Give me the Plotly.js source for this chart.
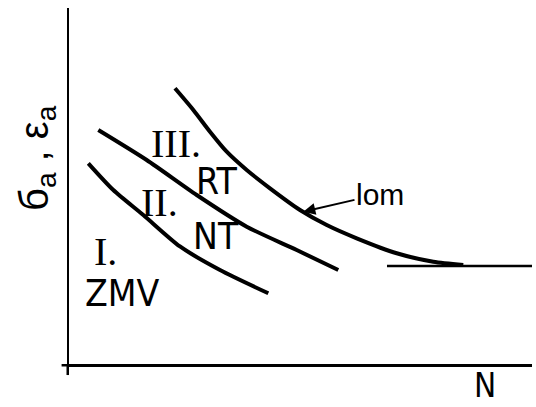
<!DOCTYPE html>
<html>
<head>
<meta charset="utf-8">
<script src="https://cdn.plot.ly/plotly-3.0.1.min.js"></script>
<style>
  html, body { margin: 0; padding: 0; background: #fff; }
  #chart { width: 536px; height: 407px; }
</style>
</head>
<body>
<div id="chart"></div>
<script>
// Fatigue regions: amplitude (stress / strain) versus number of cycles N, arbitrary units 0-100
const curveI_N   = [4.17, 9.57, 16.05, 23.97, 32.61, 43.05];
const curveI_A   = [56.38, 48.88, 41.85, 33.01, 26.40, 19.86];

const curveII_N  = [6.33, 16.78, 27.58, 38.38, 49.18, 58.16];
const curveII_A  = [65.73, 57.30, 47.47, 38.57, 32.02, 26.40];

const curveLom_N = [22.89, 26.85, 30.45, 34.06, 38.38, 43.41, 49.89, 55.66, 62.14, 70.78, 78.68, 85.16];
const curveLom_A = [77.44, 71.35, 65.25, 59.63, 54.49, 49.35, 43.26, 39.04, 35.31, 31.10, 28.74, 27.81];

// endurance limit
const limit_N = [68.68, 100];
const limit_A = [27.53, 27.53];

// region labels
const regionText = ["III.", "RT", "II.", "NT", "I.", "ZMV"];
const regionN    = [23.11, 31.75, 19.65, 31.75, 7.99, 11.56];
const regionA    = [61.80, 51.26, 45.37, 35.81, 31.60, 19.80];
const regionSerif = [true, false, true, false, true, false];

// fracture curve pointer
const lomText = "lom";
const lomTip = [50.61, 42.78];
const lomLabel = [67.17, 47.75];

const ink = "#000";
const curveStyle = { color: ink, width: 4, shape: "spline", smoothing: 0.7 };

const traces = [
  { x: curveI_N,   y: curveI_A,   mode: "lines", line: curveStyle, hoverinfo: "skip" },
  { x: curveII_N,  y: curveII_A,  mode: "lines", line: curveStyle, hoverinfo: "skip" },
  { x: curveLom_N, y: curveLom_A, mode: "lines", line: curveStyle, hoverinfo: "skip" },
  { x: limit_N,    y: limit_A,    mode: "lines", line: { color: ink, width: 2.5 }, hoverinfo: "skip" }
];

const serifFont = { family: "Liberation Serif, Times New Roman, serif", size: 40, color: ink };
const sansFamily = "Liberation Sans Narrow, DejaVu Sans Condensed, Liberation Sans, Arial, sans-serif";
const sansFont  = { family: sansFamily, size: 37, color: ink };

const annotations = regionText.map((t, i) => ({
  x: regionN[i], y: regionA[i], xref: "x", yref: "y",
  text: t, showarrow: false,
  font: regionSerif[i] ? serifFont : sansFont,
  xanchor: "center", yanchor: "middle"
}));

annotations.push({
  x: lomTip[0], y: lomTip[1], xref: "x", yref: "y",
  ax: lomLabel[0], ay: lomLabel[1], axref: "x", ayref: "y",
  text: lomText, showarrow: true,
  arrowhead: 2, arrowsize: 1.2, arrowwidth: 2, arrowcolor: ink,
  font: { family: "Liberation Sans, Arial, sans-serif", size: 30, color: ink }
});

annotations.push({
  x: 89.85, y: -0.1208, xref: "x", yref: "paper",
  text: "N", showarrow: false,
  font: { family: sansFamily, size: 33, color: ink },
  xanchor: "center", yanchor: "bottom"
});

annotations.push({
  x: -0.069, y: 0.5787, xref: "paper", yref: "paper",
  text: "б<sub>a</sub> , ε<sub>a</sub>", showarrow: false, textangle: -90,
  font: { family: "Liberation Sans, Arial, sans-serif", size: 40, color: ink },
  xanchor: "center", yanchor: "middle"
});

const axisCommon = {
  showgrid: false, zeroline: false, showticklabels: false, ticks: "",
  showline: true, linecolor: ink, linewidth: 2.5, fixedrange: true
};

const layout = {
  width: 536, height: 407,
  margin: { l: 69, r: 4, t: 8, b: 43 },
  paper_bgcolor: "#fff", plot_bgcolor: "#fff",
  showlegend: false,
  xaxis: Object.assign({ range: [0, 100] }, axisCommon),
  yaxis: Object.assign({ range: [0, 100] }, axisCommon),
  // short overhangs of the axis lines past the origin
  shapes: [
    { type: "line", xref: "paper", yref: "paper", x0: -0.016, x1: -0.0027, y0: -0.0035, y1: -0.0035,
      line: { color: ink, width: 2.5 } },
    { type: "line", xref: "paper", yref: "paper", x0: -0.0027, x1: -0.0027, y0: -0.0035, y1: -0.031,
      line: { color: ink, width: 2.5 } }
  ],
  annotations: annotations
};

Plotly.newPlot("chart", traces, layout, { staticPlot: true, displayModeBar: false });
</script>
</body>
</html>
